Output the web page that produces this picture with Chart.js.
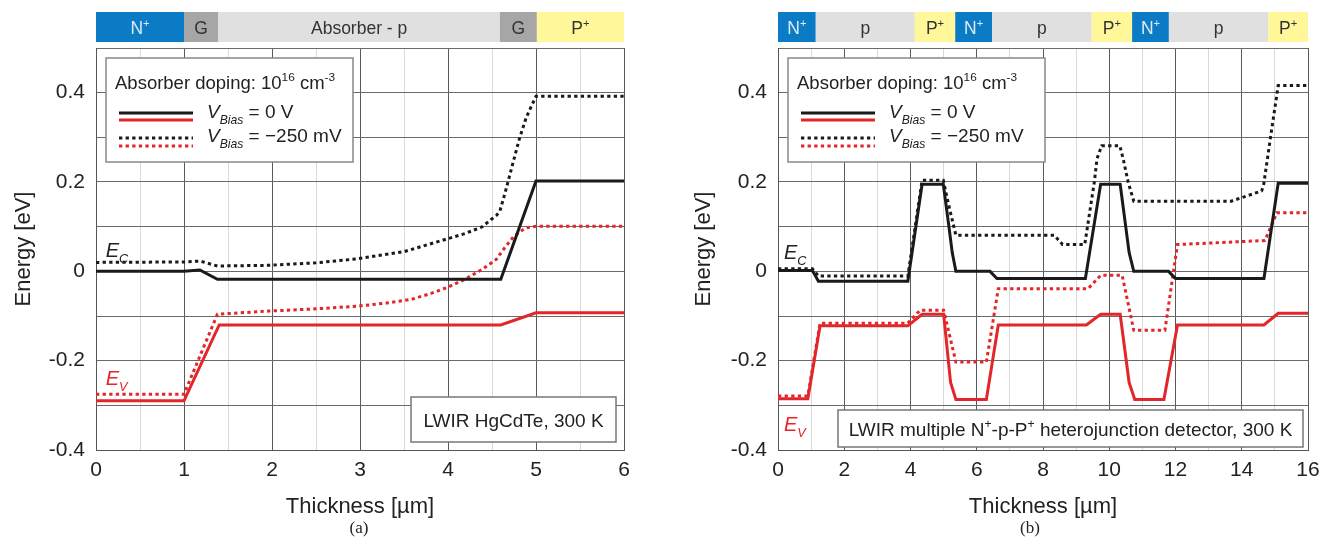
<!DOCTYPE html>
<html>
<head>
<meta charset="utf-8">
<script src="https://cdn.jsdelivr.net/npm/chart.js@4.4.1/dist/chart.umd.min.js"></script>
<style>
  body { margin: 0; background: #fff; width: 1331px; height: 540px; position: relative; overflow: hidden; }
  canvas { position: absolute; top: 0; }
  #cA { left: 0; }
  #cB { left: 680px; }
  .cap { position: absolute; top: 518px; width: 40px; text-align: center; font: 17px "Liberation Serif", "Times New Roman", serif; color: #222; }
</style>
</head>
<body>
<canvas id="cA" width="660" height="540"></canvas>
<canvas id="cB" width="651" height="540"></canvas>
<div class="cap" style="left:339px">(a)</div>
<div class="cap" style="left:1010px">(b)</div>
<script>
// (a) LWIR HgCdTe, layers along thickness
const bandBoundsA = [0, 1.0, 1.39, 4.59, 5.01, 6.0];
const bandKindsA = ['n', 'g', 'a', 'g', 'p'];
const bandNamesA = ['N^{+}', 'G', 'Absorber - p', 'G', 'P^{+}'];

// (a) band edges, V = 0 V
const ecX0A = [0, 1.0, 1.18, 1.38, 4.6, 5.0, 6];
const ecY0A = [0, 0, 0.003, -0.018, -0.018, 0.202, 0.202];
const evX0A = [0, 1.0, 1.4, 4.6, 5.0, 6];
const evY0A = [-0.29, -0.29, -0.12, -0.12, -0.093, -0.093];
// (a) band edges, V = -250 mV
const ecX1A = [0, 1.0, 1.18, 1.38, 1.95, 2.5, 2.97, 3.5, 3.98, 4.2, 4.39, 4.49, 4.55, 4.59, 4.66, 4.74, 4.81, 4.89, 4.95, 5.0, 6];
const ecY1A = [0.02, 0.021, 0.023, 0.012, 0.0134, 0.019, 0.028, 0.044, 0.072, 0.085, 0.1, 0.116, 0.125, 0.135, 0.184, 0.244, 0.296, 0.345, 0.371, 0.392, 0.392];
const evX1A = [0, 1.0, 1.38, 1.96, 2.5, 2.97, 3.3, 3.58, 3.8, 3.98, 4.19, 4.39, 4.55, 4.63, 4.75, 4.88, 5.0, 6];
const evY1A = [-0.275, -0.275, -0.096, -0.089, -0.084, -0.078, -0.071, -0.063, -0.05, -0.037, -0.018, 0.0045, 0.027, 0.049, 0.079, 0.097, 0.101, 0.101];

// (b) multiple N+-p-P+ heterojunction
const bandBoundsB = [0, 1.14, 4.13, 5.35, 6.46, 9.47, 10.69, 11.8, 14.8, 16];
const bandKindsB = ['n', 'a', 'p', 'n', 'a', 'p', 'n', 'a', 'p'];
const bandNamesB = ['N^{+}', 'p', 'P^{+}', 'N^{+}', 'p', 'P^{+}', 'N^{+}', 'p', 'P^{+}'];

const ecX0B = [0, 1.04, 1.22, 3.92, 4.35, 4.99, 5.16, 5.26, 5.37, 6.4, 6.61, 9.28, 9.74, 10.33, 10.6, 10.74, 11.79, 12.0, 14.67, 15.1, 16];
const ecY0B = [0.002, 0.002, -0.022, -0.022, 0.195, 0.195, 0.1, 0.042, 0, 0, -0.016, -0.016, 0.195, 0.195, 0.042, 0, 0, -0.016, -0.016, 0.197, 0.197];
const evX0B = [0, 0.9, 1.27, 3.92, 4.35, 5.0, 5.21, 5.37, 6.29, 6.65, 9.31, 9.74, 10.33, 10.6, 10.77, 11.65, 12.06, 14.67, 15.1, 16];
const evY0B = [-0.285, -0.285, -0.122, -0.122, -0.096, -0.096, -0.249, -0.287, -0.287, -0.12, -0.12, -0.096, -0.096, -0.249, -0.287, -0.287, -0.12, -0.12, -0.094, -0.094];
const ecX1B = [0, 1.04, 1.22, 3.92, 4.35, 4.99, 5.16, 5.37, 8.34, 8.59, 9.26, 9.55, 9.63, 9.77, 10.32, 10.42, 10.57, 10.74, 13.68, 14.6, 14.66, 14.86, 15.1, 16];
const ecY1B = [0.006, 0.006, -0.0105, -0.0105, 0.204, 0.204, 0.146, 0.081, 0.081, 0.06, 0.06, 0.2, 0.252, 0.281, 0.281, 0.252, 0.2, 0.157, 0.157, 0.18, 0.193, 0.296, 0.416, 0.416];
const evX1B = [0, 0.9, 1.27, 3.92, 4.29, 5.0, 5.37, 6.29, 6.65, 9.36, 9.74, 10.39, 10.74, 11.68, 12.06, 14.7, 15.06, 16];
const evY1B = [-0.279, -0.279, -0.116, -0.116, -0.087, -0.087, -0.203, -0.203, -0.039, -0.039, -0.009, -0.009, -0.132, -0.132, 0.06, 0.069, 0.131, 0.131];

const legendTitle = 'Absorber doping: 10^{16} cm^{-3}';
const legendRows = ['~V~_{Bias} = 0 V', '~V~_{Bias} = \u2212250 mV'];

const BLACK = '#1a1a1a', RED = '#e2262a';
const FONT = '"Liberation Sans", Arial, Helvetica, sans-serif';
const DOT = [3.3, 3.3];
const bandFill = { n: '#0a7bc4', g: '#a6a6a6', a: '#e0e0e0', p: '#fff799' };
const bandInk = { n: '#dfe9f3', g: '#333', a: '#333', p: '#333' };

const pts = (xs, ys) => xs.map((x, i) => ({ x: x, y: ys[i] }));
function line(label, xs, ys, color, dotted) {
  return {
    label: label, data: pts(xs, ys), borderColor: color, borderWidth: 3,
    borderDash: dotted ? DOT : [], borderCapStyle: 'butt', pointRadius: 0, tension: 0, fill: false
  };
}

// small markup: ^{sup}, _{sub}, ~italic~
function parts(str) {
  return str.split(/(\^\{[^}]*\}|_\{[^}]*\}|~[^~]*~)/).filter(s => s).map(s => {
    if (s[0] === '^') return { t: s.slice(2, -1), k: 'sup' };
    if (s[0] === '_') return { t: s.slice(2, -1), k: 'sub' };
    if (s[0] === '~') return { t: s.slice(1, -1), k: 'it' };
    return { t: s, k: '' };
  });
}
function rich(ctx, str, x, y, size, align) {
  const ps = parts(str);
  const fontOf = p => {
    const s = (p.k === 'sup' || p.k === 'sub') ? size * 0.64 : size;
    return ((p.k === 'it' || p.k === 'sub') ? 'italic ' : '') + s + 'px ' + FONT;
  };
  let w = 0;
  ps.forEach(p => { ctx.font = fontOf(p); p.w = ctx.measureText(p.t).width; w += p.w; });
  let cx = align === 'center' ? x - w / 2 : x;
  ctx.textAlign = 'left';
  ctx.textBaseline = 'alphabetic';
  ps.forEach(p => {
    ctx.font = fontOf(p);
    const dy = p.k === 'sup' ? -size * 0.42 : (p.k === 'sub' ? size * 0.3 : 0);
    ctx.fillText(p.t, cx, y + dy);
    cx += p.w;
  });
}

function extras(cfg) {
  return {
    id: 'extras',
    afterDraw(chart) {
      const ctx = chart.ctx, xs = chart.scales.x, ys = chart.scales.y, a = chart.chartArea;
      ctx.save();
      // layer band on top
      for (let i = 0; i < cfg.kinds.length; i++) {
        const x0 = xs.getPixelForValue(cfg.bounds[i]), x1 = xs.getPixelForValue(cfg.bounds[i + 1]);
        ctx.fillStyle = bandFill[cfg.kinds[i]];
        ctx.fillRect(x0, 12, x1 - x0, 30);
        ctx.fillStyle = bandInk[cfg.kinds[i]];
        rich(ctx, cfg.names[i], (x0 + x1) / 2, 34, 17.5, 'center');
      }
      // legend box
      const bx = a.left + 10, by = 58;
      ctx.fillStyle = '#fff';
      ctx.fillRect(bx, by, cfg.legendW, 104);
      ctx.strokeStyle = '#888';
      ctx.lineWidth = 1.5;
      ctx.strokeRect(bx, by, cfg.legendW, 104);
      ctx.fillStyle = '#222';
      rich(ctx, legendTitle, bx + 9, 89, 18.5);
      const seg = (y, color, dash) => {
        ctx.beginPath();
        ctx.setLineDash(dash);
        ctx.lineWidth = 3;
        ctx.strokeStyle = color;
        ctx.moveTo(bx + 13, y);
        ctx.lineTo(bx + 87, y);
        ctx.stroke();
      };
      seg(113, BLACK, []); seg(120, RED, []);
      seg(138, BLACK, DOT); seg(146, RED, DOT);
      ctx.setLineDash([]);
      ctx.fillStyle = '#222';
      rich(ctx, legendRows[0], bx + 101, 118, 19);
      rich(ctx, legendRows[1], bx + 101, 142, 19);
      // info box
      const ib = cfg.info;
      const ix = a.right - ib.inR - ib.w, iy = a.bottom - ib.inB - ib.h;
      ctx.fillStyle = '#fff';
      ctx.fillRect(ix, iy, ib.w, ib.h);
      ctx.strokeStyle = '#777';
      ctx.lineWidth = 1.5;
      ctx.strokeRect(ix, iy, ib.w, ib.h);
      ctx.fillStyle = '#222';
      rich(ctx, ib.text, ix + ib.w / 2, iy + ib.h / 2 + 7, 19, 'center');
      // E_C / E_V labels
      ctx.fillStyle = '#222';
      rich(ctx, '~E~_{C}', xs.getPixelForValue(cfg.eX), ys.getPixelForValue(cfg.eC), 20);
      ctx.fillStyle = RED;
      rich(ctx, '~E~_{V}', xs.getPixelForValue(cfg.eX), ys.getPixelForValue(cfg.eV), 20);
      ctx.restore();
    }
  };
}

function makeChart(id, cfg) {
  const tickFont = { family: FONT, size: 21 };
  const titleFont = { family: FONT, size: 22 };
  return new Chart(document.getElementById(id), {
    type: 'line',
    data: { datasets: cfg.datasets },
    options: {
      responsive: false,
      animation: false,
      layout: { padding: { top: 48, right: cfg.padRight, left: 0, bottom: 0 } },
      plugins: { legend: { display: false }, tooltip: { enabled: false } },
      scales: {
        x: {
          type: 'linear', min: 0, max: cfg.xMax,
          afterFit: s => { s.height = 90; },
          ticks: {
            stepSize: cfg.xMinor, autoSkip: false, maxRotation: 0, padding: 8, color: '#222', font: tickFont,
            callback: v => (Math.abs(v % cfg.xMajor) < 1e-9 ? String(v) : '')
          },
          grid: {
            drawTicks: false, lineWidth: 1,
            color: c => (Math.abs(c.tick.value % cfg.xMajor) < 1e-9 ? '#5a5a5a' : '#d9d9d9')
          },
          border: { color: '#555' },
          title: { display: true, text: 'Thickness [\u00b5m]', color: '#222', font: titleFont, padding: { top: 0, bottom: 20 } }
        },
        y: {
          min: -0.4, max: 0.5,
          afterFit: s => { s.width = cfg.yWidth; },
          ticks: {
            stepSize: 0.1, autoSkip: false, padding: 11, color: '#222', font: tickFont,
            callback: v => {
              const k = Math.round(v * 10);
              if (k % 2 !== 0 || k > 4) return '';
              return k === 0 ? '0' : (k / 10).toFixed(1);
            }
          },
          grid: { drawTicks: false, lineWidth: 1, color: '#6a6a6a' },
          border: { color: '#555' },
          title: { display: true, text: 'Energy [eV]', color: '#222', font: titleFont, padding: { top: 11, bottom: 0 } }
        }
      }
    },
    plugins: [extras(cfg)]
  });
}

makeChart('cA', {
  xMax: 6, xMinor: 0.5, xMajor: 1, padRight: 36, yWidth: 96, legendW: 247,
  bounds: bandBoundsA, kinds: bandKindsA, names: bandNamesA,
  info: { text: 'LWIR HgCdTe, 300 K', w: 205, h: 45, inR: 8, inB: 8 },
  eX: 0.11, eC: 0.032, eV: -0.255,
  datasets: [
    line('Ec 0 V', ecX0A, ecY0A, BLACK, false),
    line('Ev 0 V', evX0A, evY0A, RED, false),
    line('Ec -250 mV', ecX1A, ecY1A, BLACK, true),
    line('Ev -250 mV', evX1A, evY1A, RED, true)
  ]
});

makeChart('cB', {
  xMax: 16, xMinor: 1, xMajor: 2, padRight: 23, yWidth: 98, legendW: 257,
  bounds: bandBoundsB, kinds: bandKindsB, names: bandNamesB,
  info: { text: 'LWIR multiple N^{+}-p-P^{+} heterojunction detector, 300 K', w: 465, h: 37, inR: 5, inB: 3 },
  eX: 0.18, eC: 0.027, eV: -0.358,
  datasets: [
    line('Ec 0 V', ecX0B, ecY0B, BLACK, false),
    line('Ev 0 V', evX0B, evY0B, RED, false),
    line('Ec -250 mV', ecX1B, ecY1B, BLACK, true),
    line('Ev -250 mV', evX1B, evY1B, RED, true)
  ]
});
</script>
</body>
</html>
